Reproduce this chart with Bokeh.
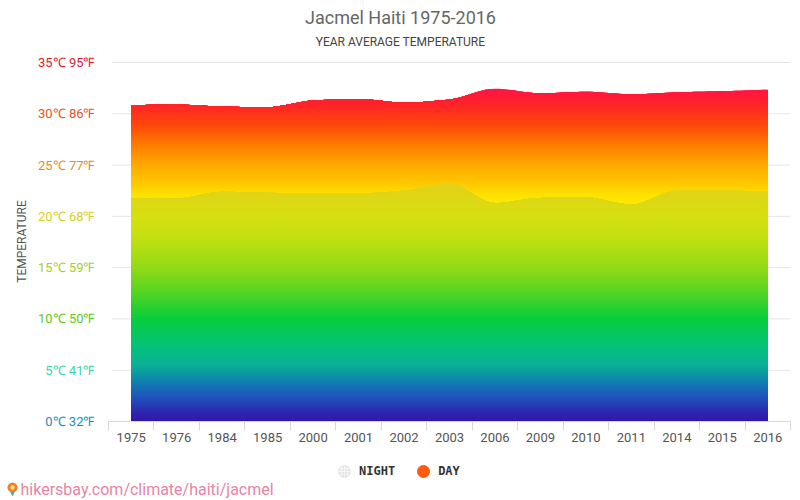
import numpy as np
from bokeh.core.properties import value
from bokeh.plotting import figure
from bokeh.models import (Range1d, FixedTicker, Label, LabelSet, ColumnDataSource,
                          Legend, LegendItem, PolyAnnotation, LinearAxis)
from bokeh.embed import file_html
from bokeh.resources import INLINE

years = ["1975","1976","1984","1985","2000","2001","2002","2003","2006","2009","2010","2011","2014","2015","2016"]
day = [30.85,30.9,30.7,30.65,31.3,31.45,31.1,31.4,32.45,32.0,32.15,31.9,32.1,32.2,32.35]
night = [21.8,21.75,22.4,22.3,22.25,22.25,22.5,23.2,21.3,21.8,21.85,21.15,22.5,22.5,22.45]

y_ticks = [0,5,10,15,20,25,30,35]
y_labels = ["0℃ 32℉","5℃ 41℉","10℃ 50℉","15℃ 59℉","20℃ 68℉","25℃ 77℉","30℃ 86℉","35℃ 95℉"]
y_colors = ["#1a8fb5","#35d6b0","#5fc81e","#a8cf1e","#d8cf28","#e98a1e","#e8521e","#e02030"]

day_stops_t = [21,22.2,23,25,27,29,31,32.6]
day_stops_c = [(255,235,0),(255,224,0),(255,205,0),(255,170,0),(255,125,0),(255,70,10),(255,35,40),(255,20,72)]
night_stops_t = [0,1,2.5,4,5.5,7.5,10,12.5,15,18,20,22,23.4]
night_stops_c = [(50,20,170),(45,40,175),(30,85,190),(15,130,175),(10,175,150),(5,195,120),(5,205,60),
                 (80,212,35),(145,218,22),(195,224,16),(214,224,16),(222,214,22),(228,208,26)]


def smooth(vals, n=10):
    y = np.asarray(vals, float)
    d = np.diff(y)
    m = np.zeros_like(y)
    m[1:-1] = np.where(d[:-1] * d[1:] > 0, 2 * d[:-1] * d[1:] / (d[:-1] + d[1:]), 0)
    m[0], m[-1] = d[0], d[-1]
    xs, ys = [], []
    for i in range(len(y) - 1):
        t = np.linspace(0, 1, n, endpoint=False)
        h = (2*t**3-3*t**2+1)*y[i] + (t**3-2*t**2+t)*m[i] + (-2*t**3+3*t**2)*y[i+1] + (t**3-t**2)*m[i+1]
        xs.extend(i + t)
        ys.extend(h)
    xs.append(len(y) - 1)
    ys.append(y[-1])
    return np.array(xs), np.array(ys)


def colour(t, ts, cs):
    return "#%02x%02x%02x" % tuple(int(round(np.interp(t, ts, [c[k] for c in cs]))) for k in range(3))


# The frame fills the canvas so that every annotation can sit where the reference has it;
# the ranges are widened so the plotting area lands at the right pixels.
W, H = 792, 498
left, right, top, bottom = 108, 790, 62, 421
ppx = (right - left) / len(years)
ppy = (bottom - top) / 35
x_range = Range1d(-0.5 - left / ppx, 14.5 + (W - right) / ppx)
y_range = Range1d(-(H - bottom) / ppy, 35 + top / ppy)

p = figure(width=W, height=H, output_backend="svg", toolbar_location=None,
           x_range=x_range, y_range=y_range, x_axis_location=None, y_axis_location=None,
           min_border=0, outline_line_color=None, background_fill_color="white", border_fill_color="white")
p.grid.visible = False

p.segment(x0=[-0.42] * len(y_ticks), x1=[14.5] * len(y_ticks), y0=y_ticks, y1=y_ticks,
          line_color="#e6e6e6", line_width=1)

xs, d_curve = smooth(day)
_, n_curve = smooth(night)
step = 0.1
for curve, ts, cs, lo in ((d_curve, day_stops_t, day_stops_c, 21.0), (n_curve, night_stops_t, night_stops_c, 0.0)):
    levels = np.arange(lo, curve.max() + step, step)[::-1]
    for b in levels:
        p.varea(x=xs, y1=np.zeros_like(xs), y2=np.minimum(b, curve), fill_color=colour(b, ts, cs))

centers = list(range(len(years)))
xax = LinearAxis(fixed_location=0, bounds=(-0.5, 14.5),
                 ticker=FixedTicker(ticks=centers, minor_ticks=[i - 0.5 for i in range(len(years) + 1)]))
xax.major_label_overrides = {i: y for i, y in enumerate(years)}
xax.major_tick_line_color = None
xax.major_tick_out = 0
xax.major_tick_in = 0
xax.minor_tick_line_color = "#d8d8d8"
xax.minor_tick_out = 9
xax.minor_tick_in = 0
xax.axis_line_color = "#d8d8d8"
xax.major_label_standoff = 2
xax.major_label_text_font = "Roboto"
xax.major_label_text_font_size = "13px"
xax.major_label_text_color = "#555555"
p.add_layout(xax, "below")

src = ColumnDataSource(dict(x=[94] * len(y_ticks), y=y_ticks, t=y_labels, c=y_colors))
p.add_layout(LabelSet(x="x", y="y", text="t", source=src, x_units="screen", y_units="data",
                      text_color="c", text_font=value("Roboto"), text_font_size=value("13px"),
                      text_align="right", text_baseline="middle"))


def lab(text, x, y, size, color, align="center", font="Roboto", angle=0):
    # x, y in px from the canvas's bottom-left corner
    p.add_layout(Label(x=x, y=y, x_units="screen", y_units="screen", text=text, text_font=font,
                       text_font_size=size, text_color=color, text_align=align,
                       text_baseline="middle", angle=angle))


lab("Jacmel Haiti 1975-2016", 400, 481, "18px", "#666666")
lab("YEAR AVERAGE TEMPERATURE", 400, 457, "12px", "#444444")
lab("TEMPERATURE", 21, 257, "12px", "#555555", angle=np.pi / 2)
lab("hikersbay.com/climate/haiti/jacmel", 20, 9, "16px", "#e884a4", align="left")

n_r = p.scatter([np.nan], [np.nan], size=12, marker="circle", fill_color="#f6f6f6", line_color="#e6e6e6",
                hatch_pattern="ring", hatch_color="#e0e0e0", hatch_scale=3)
d_r = p.scatter([np.nan], [np.nan], size=12, marker="circle", fill_color="#fb5a0f", line_color="#fb5a0f")
leg = Legend(items=[LegendItem(label="NIGHT", renderers=[n_r]), LegendItem(label="DAY", renderers=[d_r])],
             orientation="horizontal", location=(329, 12), background_fill_alpha=0, border_line_color=None,
             label_text_font="DejaVu Sans Mono", label_text_font_style="bold", label_text_font_size="12px",
             label_text_color="#333333", glyph_width=30, glyph_height=30, label_standoff=-2, spacing=13,
             padding=4, margin=0)
p.add_layout(leg, "center")

# map pin beside the site address (px from the canvas's bottom-left corner)
ang = np.linspace(0, 2 * np.pi, 24, endpoint=False)
p.add_layout(PolyAnnotation(xs=[8, 12, 16], ys=[10, 2, 10], xs_units="screen", ys_units="screen",
                            fill_color="#2fb5a0", fill_alpha=1, line_color=None))
p.add_layout(PolyAnnotation(xs=list(12 + 5 * np.cos(ang)), ys=list(11 + 5 * np.sin(ang)),
                            xs_units="screen", ys_units="screen",
                            fill_color="#ef7f2a", fill_alpha=1, line_color=None))
p.add_layout(PolyAnnotation(xs=list(12 + 2.2 * np.cos(ang)), ys=list(11 + 2.2 * np.sin(ang)),
                            xs_units="screen", ys_units="screen",
                            fill_color="#fbe36a", fill_alpha=1, line_color=None))

open("out.html", "w").write(file_html(p, INLINE))
